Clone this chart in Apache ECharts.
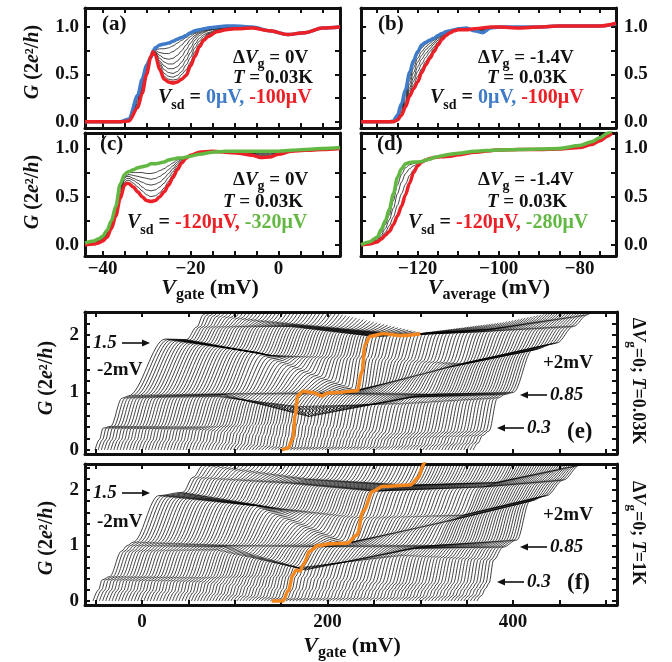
<!DOCTYPE html>
<html>
<head>
<meta charset="utf-8">
<script src="https://cdn.jsdelivr.net/npm/echarts@6/dist/echarts.min.js"></script>
<style>
html, body { margin: 0; padding: 0; background: #fff; }
#chart { width: 672px; height: 662px; }
</style>
</head>
<body>
<div id="chart"></div>
<script>
const SERIF = '"Liberation Serif", "DejaVu Serif", serif';
const INK = '#111';
const BLUE = '#3f7bc8', RED = '#ec2027', GREEN = '#63b843', ORANGE = '#f5871f';

// ---------- (a) dVg = 0V, Vsd = 0 (blue) .. -100uV (red)
const vA = [-44,-36,-34,-32,-31,-30,-29,-28.5,-28,-27,-26,-25,-24,-23,-22,-21,-20,-19,-18,-17,-16,-14,-12,-10,-6,-2,2,6,10,14];
const gA_blue = [0,0,0.03,0.28,0.45,0.6,0.68,0.75,0.78,0.81,0.82,0.83,0.85,0.87,0.89,0.91,0.94,0.96,0.97,0.98,0.99,1.0,1.01,1.01,1.0,0.96,0.92,0.94,0.99,1.0];
const gA_red  = [0,0,0.01,0.15,0.3,0.5,0.69,0.74,0.7,0.55,0.45,0.42,0.41,0.42,0.45,0.49,0.59,0.69,0.79,0.86,0.9,0.95,0.97,0.98,0.99,0.96,0.92,0.94,0.99,1.0];
const gA_black = [
  [0,0,0.02,0.26,0.43,0.58,0.68,0.74,0.76,0.77,0.77,0.78,0.8,0.83,0.86,0.89,0.92,0.94,0.96,0.97,0.98,0.99,1.0,1.0,1.0,0.96,0.92,0.94,0.99,1.0],
  [0,0,0.02,0.25,0.42,0.57,0.68,0.74,0.75,0.73,0.72,0.72,0.74,0.77,0.81,0.86,0.9,0.93,0.95,0.97,0.98,0.99,1.0,1.0,1.0,0.96,0.92,0.94,0.99,1.0],
  [0,0,0.02,0.23,0.4,0.56,0.68,0.74,0.74,0.7,0.67,0.66,0.67,0.7,0.75,0.81,0.87,0.91,0.94,0.96,0.97,0.99,1.0,1.0,1.0,0.96,0.92,0.94,0.99,1.0],
  [0,0,0.02,0.22,0.38,0.55,0.68,0.74,0.73,0.67,0.63,0.61,0.61,0.64,0.69,0.76,0.83,0.89,0.93,0.95,0.97,0.98,0.99,1.0,1.0,0.96,0.92,0.94,0.99,1.0],
  [0,0,0.01,0.2,0.36,0.54,0.68,0.74,0.73,0.64,0.59,0.56,0.56,0.58,0.63,0.7,0.78,0.86,0.91,0.94,0.96,0.98,0.99,0.99,1.0,0.96,0.92,0.94,0.99,1.0],
  [0,0,0.01,0.19,0.34,0.53,0.68,0.74,0.72,0.62,0.55,0.52,0.51,0.53,0.58,0.65,0.73,0.82,0.88,0.92,0.94,0.97,0.98,0.99,0.99,0.96,0.92,0.94,0.99,1.0],
  [0,0,0.01,0.17,0.32,0.52,0.69,0.74,0.72,0.6,0.51,0.48,0.47,0.49,0.53,0.6,0.68,0.78,0.85,0.9,0.93,0.96,0.98,0.99,0.99,0.96,0.92,0.94,0.99,1.0],
  [0,0,0.01,0.16,0.31,0.51,0.69,0.74,0.71,0.57,0.48,0.45,0.44,0.45,0.5,0.55,0.63,0.74,0.82,0.88,0.92,0.96,0.97,0.98,0.99,0.96,0.92,0.94,0.99,1.0]
];

// ---------- (b) dVg = -1.4V
const vB = [-134,-127,-126,-125,-124,-123,-122,-121,-120,-119,-118,-117,-116,-115,-114,-113,-112,-111,-110,-108,-106,-104,-102,-100,-95,-90,-85,-80,-75,-71];
const gB_blue = [0,0,0.01,0.07,0.19,0.34,0.52,0.65,0.74,0.81,0.84,0.86,0.88,0.91,0.93,0.95,0.96,0.97,0.98,0.99,0.96,0.94,0.99,1.0,1.0,1.0,1.01,1.01,1.01,1.03];
const gB_red  = [0,0,0,0.02,0.07,0.16,0.27,0.35,0.42,0.52,0.6,0.67,0.74,0.81,0.87,0.91,0.94,0.96,0.97,0.97,0.98,0.99,1.0,1.0,0.99,1.0,1.01,1.01,1.01,1.04];
const gB_black = [
  [0,0,0.01,0.06,0.17,0.31,0.48,0.61,0.71,0.78,0.82,0.85,0.87,0.9,0.92,0.94,0.96,0.97,0.98,0.98,0.97,0.96,0.99,1.0,1.0,1.0,1.01,1.01,1.01,1.03],
  [0,0,0.01,0.05,0.15,0.28,0.44,0.57,0.67,0.74,0.79,0.83,0.86,0.89,0.92,0.94,0.95,0.97,0.98,0.98,0.97,0.97,0.99,1.0,1.0,1.0,1.01,1.01,1.01,1.03],
  [0,0,0.01,0.04,0.13,0.25,0.4,0.52,0.63,0.7,0.76,0.8,0.84,0.88,0.91,0.93,0.95,0.96,0.97,0.98,0.97,0.97,0.99,1.0,1.0,1.0,1.01,1.01,1.01,1.03],
  [0,0,0,0.04,0.11,0.22,0.36,0.47,0.58,0.66,0.72,0.77,0.82,0.86,0.9,0.92,0.95,0.96,0.97,0.98,0.98,0.98,0.99,1.0,1.0,1.0,1.01,1.01,1.01,1.03],
  [0,0,0,0.03,0.09,0.2,0.33,0.43,0.53,0.61,0.68,0.74,0.79,0.84,0.89,0.92,0.94,0.96,0.97,0.97,0.98,0.98,0.99,1.0,1.0,1.0,1.01,1.01,1.01,1.03],
  [0,0,0,0.03,0.08,0.18,0.3,0.39,0.48,0.56,0.64,0.7,0.77,0.82,0.88,0.91,0.94,0.96,0.97,0.97,0.98,0.99,0.99,1.0,1.0,1.0,1.01,1.01,1.01,1.03]
];

// ---------- (c) dVg = 0V, Vsd = -120uV (red) .. -320uV (green)
const vC = [-44,-42,-41,-40,-39,-38,-37,-36,-35,-34.5,-34,-33,-32,-31,-30,-29,-28,-27,-26,-25,-24,-23,-22,-21,-20,-18,-15,-12,-9,-6,-4,-2,0,3,6,10,14];
const gC_green = [0.02,0.04,0.06,0.09,0.15,0.25,0.4,0.63,0.73,0.75,0.76,0.78,0.8,0.81,0.82,0.84,0.84,0.85,0.86,0.88,0.89,0.9,0.9,0.91,0.92,0.94,0.96,0.97,0.97,0.97,0.97,0.97,0.97,0.98,0.99,1.0,1.01];
const gC_red   = [0,0.01,0.02,0.04,0.08,0.17,0.3,0.48,0.62,0.64,0.635,0.6,0.55,0.5,0.46,0.45,0.46,0.5,0.55,0.62,0.7,0.78,0.85,0.9,0.93,0.96,0.97,0.96,0.95,0.93,0.905,0.91,0.94,0.97,0.98,0.99,1.0];
const gC_black = [
  [0.01,0.02,0.03,0.05,0.1,0.19,0.33,0.52,0.65,0.67,0.67,0.64,0.6,0.56,0.52,0.5,0.51,0.54,0.59,0.66,0.73,0.8,0.86,0.9,0.93,0.95,0.97,0.965,0.955,0.94,0.92,0.92,0.945,0.97,0.98,0.99,1.0],
  [0.01,0.02,0.03,0.05,0.1,0.2,0.35,0.55,0.67,0.69,0.69,0.67,0.64,0.6,0.57,0.56,0.57,0.6,0.64,0.7,0.76,0.82,0.87,0.9,0.93,0.95,0.97,0.97,0.96,0.945,0.93,0.93,0.95,0.97,0.98,0.99,1.0],
  [0.01,0.02,0.04,0.06,0.11,0.21,0.36,0.57,0.69,0.71,0.71,0.69,0.67,0.65,0.63,0.62,0.63,0.65,0.69,0.74,0.79,0.84,0.88,0.9,0.93,0.95,0.97,0.97,0.96,0.95,0.94,0.94,0.955,0.97,0.98,0.99,1.0],
  [0.01,0.03,0.04,0.07,0.12,0.22,0.37,0.59,0.7,0.72,0.73,0.72,0.71,0.7,0.69,0.68,0.69,0.71,0.74,0.78,0.82,0.86,0.89,0.9,0.93,0.95,0.97,0.97,0.965,0.955,0.95,0.95,0.96,0.97,0.98,0.99,1.0],
  [0.02,0.03,0.05,0.08,0.13,0.23,0.38,0.61,0.72,0.74,0.75,0.75,0.75,0.75,0.74,0.74,0.75,0.77,0.79,0.82,0.85,0.88,0.89,0.9,0.93,0.95,0.97,0.97,0.97,0.96,0.96,0.96,0.965,0.975,0.98,0.99,1.0]
];

// ---------- (d) dVg = -1.4V, Vsd = -120uV (red) .. -280uV (green)
const vD = [-134,-132,-130,-129,-128,-127,-126,-125,-124,-123,-122,-121,-120,-119,-118,-117,-116,-115,-114,-112,-110,-106,-100,-95,-90,-85,-80,-77,-75,-73,-72];
const gD_green = [0,0.03,0.08,0.16,0.25,0.37,0.53,0.7,0.79,0.84,0.855,0.86,0.86,0.865,0.88,0.89,0.905,0.915,0.925,0.94,0.95,0.97,0.985,0.99,0.995,1.0,1.03,1.07,1.11,1.16,1.19];
const gD_red   = [0,0.01,0.03,0.06,0.1,0.14,0.21,0.3,0.4,0.52,0.64,0.75,0.82,0.86,0.88,0.895,0.905,0.91,0.915,0.92,0.935,0.96,0.985,0.99,0.99,0.995,1.01,1.04,1.08,1.13,1.16];
const gD_black = [
  [0,0.025,0.065,0.13,0.21,0.31,0.46,0.62,0.73,0.8,0.83,0.845,0.85,0.86,0.875,0.89,0.905,0.915,0.925,0.935,0.945,0.965,0.985,0.99,0.995,1.0,1.025,1.06,1.1,1.15,1.18],
  [0,0.02,0.05,0.1,0.17,0.26,0.38,0.53,0.65,0.74,0.79,0.82,0.84,0.86,0.875,0.89,0.9,0.91,0.92,0.93,0.94,0.965,0.985,0.99,0.99,1.0,1.02,1.05,1.09,1.14,1.17],
  [0,0.015,0.04,0.08,0.13,0.2,0.29,0.41,0.53,0.63,0.72,0.78,0.83,0.86,0.875,0.89,0.9,0.91,0.915,0.925,0.94,0.96,0.985,0.99,0.99,1.0,1.015,1.045,1.085,1.135,1.165]
];

// ---------- (e),(f) waterfalls: key traces [Vgate, G] at Vsd = -2, -1, 0, +1, +2 mV
const keysE = [
  [[-50.7,0],[-46,0.18],[-42,0.38],[-34,0.41],[-21.5,0.9],[-18,0.92],[-15,0.94],[25,1.93],[48,1.92],[59,2.14],[66,2.35],[76,2.6]],
  [[51,0],[55,0.15],[59,0.36],[66,0.4],[80,0.93],[88,0.96],[96,0.98],[122,1.7],[140,1.64],[158,2.15],[176,2.17],[190,2.45]],
  [[153,0],[158,0.04],[161,0.22],[163,0.45],[167,0.76],[180,0.58],[205,0.98],[233,1.03],[239,1.6],[246,1.98],[285,2.0],[302,2.03]],
  [[255,0],[259,0.05],[263,0.2],[268,0.28],[278,0.8],[290,0.92],[312,0.97],[330,1.44],[345,1.5],[360,2.05],[376,2.1],[390,2.22]],
  [[357,0],[362,0.12],[367,0.25],[374,0.33],[383,0.9],[392,0.97],[400,1.0],[421,1.74],[447,1.86],[465,2.15],[480,2.35],[490,2.55]]
];
const keysF = [
  [[-52.8,0],[-47,0.2],[-43,0.38],[-35,0.44],[-22,0.9],[-16,1.0],[-9.7,1.06],[18,1.9],[44,1.96],[55,2.23],[66,2.45],[80,2.75]],
  [[50,0],[55,0.15],[59,0.35],[66,0.42],[80,0.92],[88,0.98],[96,1.0],[122,1.72],[142,1.68],[160,2.12],[180,2.2],[195,2.6]],
  [[148,0],[153,0.04],[158,0.2],[162,0.45],[167,0.6],[177,0.56],[196,0.98],[222,1.04],[236,1.5],[249,1.98],[289,2.09],[305,2.6]],
  [[256,0],[260,0.05],[264,0.2],[269,0.3],[280,0.82],[292,0.95],[314,1.0],[332,1.45],[347,1.55],[364,2.05],[384,2.14],[400,2.6]],
  [[361,0],[366,0.1],[370,0.22],[374,0.32],[379,0.74],[389,0.97],[404,1.1],[418,1.8],[436,1.9],[454,2.18],[472,2.45],[482,2.65]]
];
const orangeE = [[150.6,0],[157,0.03],[162.8,0.2],[165,0.6],[168,0.95],[173.6,1.02],[184,1.0],[194,0.94],[200.5,0.99],[210,1.0],[232,1.03],[237,1.35],[240.4,1.83],[246,1.98],[260,2.02],[281,1.99],[300,2.02]];
const orangeF = [[139.8,0],[152,0],[157.4,0.18],[162.8,0.47],[166,0.56],[170.4,0.54],[173.6,0.65],[181,0.9],[189.8,1.0],[202.7,1.03],[221,1.04],[231.8,1.19],[238.3,1.62],[249,1.98],[259.8,2.07],[289,2.09],[297.7,2.22],[303,2.45],[306,2.6]];
const N_TRACES = 121;

// tick positions / labels
const ticksAC = [-40,-35,-30,-25,-20,-15,-10,-5,0,5,10], labelsAC = [-40,-20,0];
const ticksBD = [-130,-125,-120,-115,-110,-105,-100,-95,-90,-85,-80,-75], labelsBD = [-120,-100,-80];
const ticksEF = [-50,0,50,100,150,200,250,300,350,400,450,500], labelsEF = [0,200,400];
const ticksG = [0,0.25,0.5,0.75,1.0], labelsG = [0,0.5,1.0];
const ticksW = [0,0.2,0.4,0.6,0.8,1.0,1.2,1.4,1.6,1.8,2.0,2.2,2.4], labelsW = [0,1,2];

const grids = [
  {left: 85, top: 8, width: 255, height: 120},
  {left: 361, top: 8, width: 255, height: 120},
  {left: 85, top: 133, width: 255, height: 123},
  {left: 361, top: 133, width: 255, height: 123},
  {left: 85, top: 312, width: 532, height: 142},
  {left: 85, top: 464, width: 532, height: 141}
];

const minus = v => String(v).replace('-', '\u2212');
const tickFont = {fontFamily: SERIF, fontWeight: 'bold', fontSize: 19, color: INK};

const xAxes = [], yAxes = [];
function addAxes(gi, xr, xt, xl, xShow, yr, yt, yl, ySide, yFmt) {
  ['bottom', 'top'].forEach(pos => {
    const lab = pos === 'bottom' && xShow;
    xAxes.push({
      gridIndex: gi, type: 'value', position: pos, min: xr[0], max: xr[1],
      axisLine: {show: true, onZero: false, lineStyle: {color: INK, width: 3}},
      axisTick: {inside: true, length: 5, customValues: xt, lineStyle: {color: INK, width: 2}},
      axisLabel: lab ? Object.assign({show: true, customValues: xl, formatter: minus, margin: gi === 5 ? 8 : 4}, tickFont) : {show: false},
      splitLine: {show: false}
    });
  });
  ['left', 'right'].forEach(pos => {
    const lab = pos === ySide;
    yAxes.push({
      gridIndex: gi, type: 'value', position: pos, min: yr[0], max: yr[1],
      axisLine: {show: true, onZero: false, lineStyle: {color: INK, width: 3}},
      axisTick: {inside: true, length: 5, customValues: yt, lineStyle: {color: INK, width: 2}},
      axisLabel: lab ? Object.assign({show: true, customValues: yl, formatter: yFmt, margin: pos === 'right' ? 8 : 6}, tickFont) : {show: false},
      splitLine: {show: false}
    });
  });
}
const f1 = v => v.toFixed(1);
const f0 = v => String(Math.round(v));
addAxes(0, [-44, 14], ticksAC, labelsAC, false, [-0.065, 1.2], ticksG, labelsG, 'left', f1);
addAxes(1, [-134, -71], ticksBD, labelsBD, false, [-0.065, 1.2], ticksG, labelsG, 'right', f1);
addAxes(2, [-44, 14], ticksAC, labelsAC, true, [-0.115, 1.16], ticksG, labelsG, 'left', f1);
addAxes(3, [-134, -71], ticksBD, labelsBD, true, [-0.115, 1.16], ticksG, labelsG, 'right', f1);
addAxes(4, [-61.5, 512], ticksEF, labelsEF, false, [-0.07, 2.4], ticksW, labelsW, 'left', f0);
addAxes(5, [-61.5, 512], ticksEF, labelsEF, true, [-0.072, 2.47], ticksW, labelsW, 'left', f0);

const series = [];
function curve(gi, xs, ys, color, width) {
  series.push({
    type: 'line', xAxisIndex: gi * 2, yAxisIndex: gi * 2,
    data: xs.map((x, i) => [x, ys[i]]), symbol: 'none',
    smooth: 0.3, smoothMonotone: 'x', silent: true,
    lineStyle: {color: color, width: width}
  });
}
function pairs(gi, pts, color, width) {
  series.push({
    type: 'line', xAxisIndex: gi * 2, yAxisIndex: gi * 2, data: pts, symbol: 'none',
    smooth: 0.35, smoothMonotone: 'x', silent: true, lineStyle: {color: color, width: width}
  });
}

gA_black.forEach(g => curve(0, vA, g, INK, 0.8));
curve(0, vA, gA_blue, BLUE, 3.5);
curve(0, vA, gA_red, RED, 3.5);
gB_black.forEach(g => curve(1, vB, g, INK, 0.8));
curve(1, vB, gB_blue, BLUE, 3.5);
curve(1, vB, gB_red, RED, 3.5);
gC_black.forEach(g => curve(2, vC, g, INK, 0.8));
curve(2, vC, gC_red, RED, 3.5);
curve(2, vC, gC_green, GREEN, 3.5);
gD_black.forEach(g => curve(3, vD, g, INK, 0.8));
curve(3, vD, gD_red, RED, 3.5);
curve(3, vD, gD_green, GREEN, 3.5);

// waterfall: traces between neighbouring key traces
function waterfall(gi, keys) {
  const span = (N_TRACES - 1) / (keys.length - 1);
  for (let k = 0; k < N_TRACES; k++) {
    const seg = Math.min(Math.floor(k / span), keys.length - 2);
    const t = (k - seg * span) / span;
    const A = keys[seg], B = keys[seg + 1];
    pairs(gi, A.map((p, j) => [p[0] + (B[j][0] - p[0]) * t, p[1] + (B[j][1] - p[1]) * t]), '#000', 0.75);
  }
}
waterfall(4, keysE);
pairs(4, orangeE, ORANGE, 3.5);
waterfall(5, keysF);
pairs(5, orangeF, ORANGE, 3.5);

// ---------- text
function rich(size) {
  const base = {fontFamily: SERIF, fontWeight: 'bold', fontSize: size, lineHeight: size + 8, verticalAlign: 'middle', fill: INK};
  const sub = Math.round(size * 0.72);
  return {
    n: base,
    i: Object.assign({}, base, {fontStyle: 'italic'}),
    s: Object.assign({}, base, {fontSize: sub, lineHeight: sub, verticalAlign: 'bottom'}),
    b: Object.assign({}, base, {fill: BLUE}),
    r: Object.assign({}, base, {fill: RED}),
    g: Object.assign({}, base, {fill: GREEN})
  };
}
function txt(x, y, text, size, align, rotation) {
  return {type: 'text', x: x, y: y, rotation: rotation || 0, silent: true, z: 100,
    style: {text: text, align: align || 'left', verticalAlign: 'middle', rich: rich(size)}};
}
function arrow(x1, x2, y) {
  const d = Math.sign(x2 - x1), hx = x2 - d * 8;
  return [
    {type: 'line', silent: true, z: 100, shape: {x1: x1, y1: y, x2: hx, y2: y}, style: {stroke: INK, lineWidth: 1.6}},
    {type: 'polygon', silent: true, z: 100, shape: {points: [[x2, y], [hx, y - 3.5], [hx, y + 3.5]]}, style: {fill: INK}}
  ];
}
const gLabel = '{i|G}{n| (2}{i|e}{n|²/}{i|h}{n|)}';
const graphic = [
  txt(102, 25, '{n|(a)}', 21),
  txt(233, 58, '{n|Δ}{i|V}{s|g}{n| = 0V}', 19),
  txt(233, 78, '{i|T}{n| = 0.03K}', 19),
  txt(158, 98, '{i|V}{s|sd}{n| = }{b|0μV, }{r|-100μV}', 20),
  txt(378, 25, '{n|(b)}', 21),
  txt(478, 58, '{n|Δ}{i|V}{s|g}{n| = -1.4V}', 19),
  txt(487, 78, '{i|T}{n| = 0.03K}', 19),
  txt(430, 98, '{i|V}{s|sd}{n| = }{b|0μV, }{r|-100μV}', 20),
  txt(100, 145, '{n|(c)}', 21),
  txt(233, 180, '{n|Δ}{i|V}{s|g}{n| = 0V}', 19),
  txt(223, 202, '{i|T}{n| = 0.03K}', 19),
  txt(127, 223, '{i|V}{s|sd}{n| = }{r|-120μV, }{g|-320μV}', 20),
  txt(377, 145, '{n|(d)}', 21),
  txt(478, 180, '{n|Δ}{i|V}{s|g}{n| = -1.4V}', 19),
  txt(487, 202, '{i|T}{n| = 0.03K}', 19),
  txt(408, 223, '{i|V}{s|sd}{n| = }{r|-120μV, }{g|-280μV}', 20),
  txt(33, 62, gLabel, 20, 'center', Math.PI / 2),
  txt(33, 192, gLabel, 20, 'center', Math.PI / 2),
  txt(47, 378, gLabel, 20, 'center', Math.PI / 2),
  txt(47, 538, gLabel, 20, 'center', Math.PI / 2),
  txt(210, 288, '{i|V}{s|gate}{n| (mV)}', 22, 'center'),
  txt(489, 288, '{i|V}{s|average}{n| (mV)}', 22, 'center'),
  txt(352, 646, '{i|V}{s|gate}{n| (mV)}', 22, 'center'),
  txt(638, 381, '{n|Δ}{i|V}{s|g}{n|=0; }{i|T}{n|=0.03K}', 18, 'center', -Math.PI / 2),
  txt(638, 533, '{n|Δ}{i|V}{s|g}{n|=0; }{i|T}{n|=1K}', 18, 'center', -Math.PI / 2),
  // (e)
  txt(93, 343, '{i|1.5}', 19), ...arrow(122, 150, 343),
  txt(97, 370, '{n|-2mV}', 19),
  txt(543, 363, '{n|+2mV}', 19),
  txt(550, 395, '{i|0.85}', 19), ...arrow(547, 520, 395),
  txt(527, 428, '{i|0.3}', 19), ...arrow(524, 497, 428),
  txt(567, 432, '{n|(e)}', 23),
  // (f)
  txt(93, 493, '{i|1.5}', 19), ...arrow(122, 150, 493),
  txt(97, 522, '{n|-2mV}', 19),
  txt(543, 515, '{n|+2mV}', 19),
  txt(550, 547, '{i|0.85}', 19), ...arrow(547, 520, 547),
  txt(527, 582, '{i|0.3}', 19), ...arrow(524, 497, 582),
  txt(567, 583, '{n|(f)}', 23)
];

const chart = echarts.init(document.getElementById('chart'), null, {renderer: 'canvas'});
chart.setOption({
  animation: false,
  backgroundColor: '#fff',
  grid: grids,
  xAxis: xAxes,
  yAxis: yAxes,
  series: series,
  graphic: graphic
});
</script>
</body>
</html>
